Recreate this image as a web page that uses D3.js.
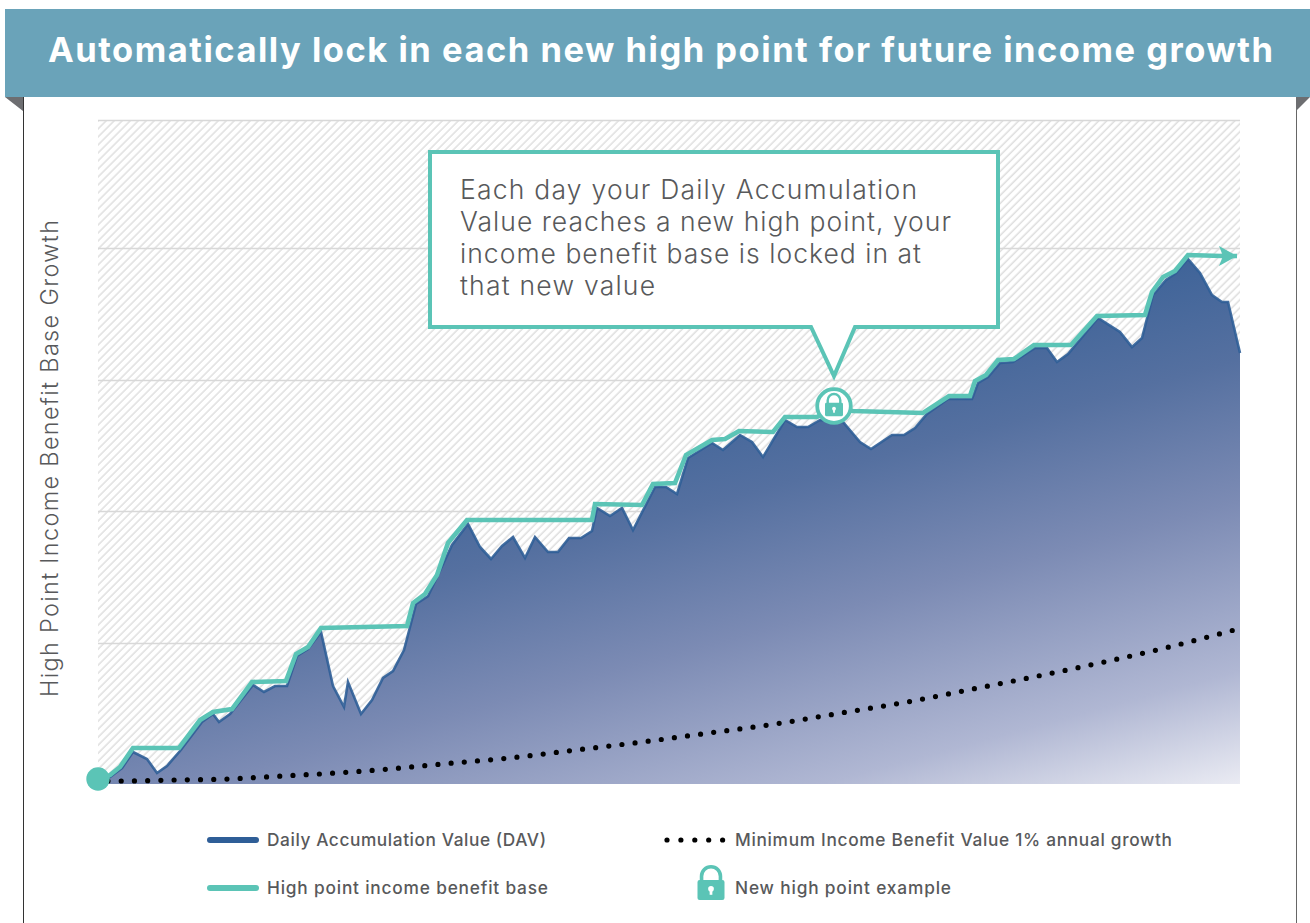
<!DOCTYPE html>
<html>
<head>
<meta charset="utf-8">
<script src="https://cdn.jsdelivr.net/npm/d3@7"></script>
<style>
  html, body { margin: 0; padding: 0; background: #fff; }
  svg { display: block; }
  text { font-family: Inter, "Open Sans", sans-serif; }
</style>
</head>
<body>
<div id="chart"></div>
<script>
// values, day = horizontal position, value = height above the baseline
const davDays = [0,12,24,35,49,59,69,82,104,115,121,132,155,166,177,189,199,210,223,235,246,250,263,274,285,295,306,318,330,340,354,370,382,393,404,415,427,437,450,460,471,483,494,499,512,524,535,557,568,579,590,614,625,642,654,665,687,699,710,722,745,762,773,794,806,817,829,850,874,880,890,902,915,937,949,959,970,1000,1022,1034,1044,1055,1068,1078,1090,1102,1114,1124,1130,1142];
const davValues = [4,7,16,32,25,11,18,33,62,70,62,70,99,92,98,98,128,135,152,98,77,102,70,84,106,113,134,180,188,209,239,260,237,225,238,247,226,247,232,232,246,246,253,276,268,276,254,297,297,290,326,341,334,349,342,327,364,357,357,364,362,342,335,349,349,356,370,385,385,401,407,421,422,436,436,422,430,466,452,437,446,489,504,511,525,511,489,482,482,431];

const highDays = [0,12,22,35,81,102,115,134,154,188,198,210,223,309,315,327,339,350,369,494,497,544,555,577,588,614,627,641,675,687,719,736,755,825,851,872,877,888,900,916,936,973,999,1047,1054,1065,1077,1090,1124,1139];
const highValues = [4,9,17,36,36,64,72,75,102,103,130,137,156,158,181,190,209,241,264,264,280,279,300,301,329,344,345,353,352,367,367,376,373,371,388,388,403,409,424,425,439,439,468,469,492,507,513,529,528,528];

const minDays = [10,24,77,130,184,238,291,344,411,478,544,611,677,743,809,875,940,1006,1071,1136];
const minValues = [3,3,4,5,8,11,15,20,26,34,42,51,60,71,82,95,108,122,137,154];

const gridValues = [141,273,404,536,664];
const lockDay = 736;
const lockValue = 378;

const titleText = "Automatically lock in each new high point for future income growth";
const yTitle = "High Point Income Benefit Base Growth";
const calloutLines = [
  ["Each day your Daily Accumulation", 457],
  ["Value reaches a new high point, your", 491],
  ["income benefit base is locked in at", 461],
  ["that new value", 195]
];

const width = 1310, height = 923;
const teal = "#5bc4b6", grey = "#58595b", blue = "#2f5e97";
const plotLeft = 98, plotRight = 1240, plotTop = 120, plotBottom = 784;

const svg = d3.select("#chart").append("svg").attr("width", width).attr("height", height);
const defs = svg.append("defs");

// hatch behind the chart
const hatch = defs.append("pattern")
  .attr("id", "hatch")
  .attr("patternUnits", "userSpaceOnUse")
  .attr("width", 5.66).attr("height", 5.66)
  .attr("patternTransform", "rotate(45)");
hatch.append("line")
  .attr("x1", 2).attr("x2", 2).attr("y1", 0).attr("y2", 5.66)
  .attr("stroke", "#d6d6d6").attr("stroke-width", 1.2);

const grad = defs.append("linearGradient")
  .attr("id", "areaFill")
  .attr("gradientUnits", "userSpaceOnUse")
  .attr("x1", 1097).attr("y1", 257).attr("x2", 1240).attr("y2", 784);
[[0, "#3a6197"], [0.25, "#5570a0"], [0.5, "#7c8bb4"], [0.8, "#b0b7d3"], [1, "#eaebf3"]]
  .forEach(s => grad.append("stop").attr("offset", s[0]).attr("stop-color", s[1]));

const x = d3.scaleLinear().domain([0, 1142]).range([plotLeft, plotRight]);
const y = d3.scaleLinear().domain([0, 664]).range([plotBottom, plotTop]);

// page frame and banner
svg.append("line").attr("x1", 23.5).attr("x2", 23.5).attr("y1", 97).attr("y2", height).attr("stroke", "#333").attr("stroke-width", 1);
svg.append("line").attr("x1", 1296.5).attr("x2", 1296.5).attr("y1", 97).attr("y2", height).attr("stroke", "#666").attr("stroke-width", 1);
svg.append("rect").attr("x", 5).attr("y", 9).attr("width", 1305).attr("height", 88).attr("fill", "#6aa3b9");
svg.append("path").attr("d", "M5,97L23,97L23,111Z").attr("fill", "#6d6e71");
svg.append("path").attr("d", "M1310,97L1296,97L1296,111Z").attr("fill", "#6d6e71");
svg.append("text")
  .attr("x", 48).attr("y", 62)
  .attr("textLength", 1225).attr("lengthAdjust", "spacing")
  .attr("font-size", 34.5).attr("font-weight", 700).attr("fill", "#fff")
  .text(titleText);

svg.append("rect")
  .attr("x", plotLeft).attr("y", plotTop).attr("width", plotRight - plotLeft).attr("height", plotBottom - plotTop)
  .attr("fill", "url(#hatch)");

// gridlines
const grid = svg.append("g")
  .attr("transform", "translate(" + plotLeft + ",0)")
  .call(d3.axisLeft(y).tickValues(gridValues).tickSize(-(plotRight - plotLeft)).tickFormat(""));
grid.select(".domain").remove();
grid.selectAll("line").attr("stroke", "#d8d8d8").attr("stroke-width", 1.3);

// y title
svg.append("text")
  .attr("transform", "translate(58,697) rotate(-90)")
  .attr("textLength", 477).attr("lengthAdjust", "spacing")
  .attr("font-size", 23.5).attr("font-weight", 300).attr("fill", grey)
  .text(yTitle);

// area and lines
const dav = d3.zip(davDays, davValues);
const high = d3.zip(highDays, highValues);
const min = d3.zip(minDays, minValues);

const area = d3.area().x(d => x(d[0])).y0(y(0)).y1(d => y(d[1]));
const line = d3.line().x(d => x(d[0])).y(d => y(d[1]));

svg.append("path").datum(dav).attr("d", area).attr("fill", "url(#areaFill)");
svg.append("path").datum(dav).attr("d", line)
  .attr("fill", "none").attr("stroke", blue).attr("stroke-width", 2.6).attr("stroke-opacity", 0.9);
svg.append("path").datum(high).attr("d", line)
  .attr("fill", "none").attr("stroke", teal).attr("stroke-width", 4.6);
svg.append("path").datum(min).attr("d", line.curve(d3.curveMonotoneX))
  .attr("fill", "none").attr("stroke", "#000").attr("stroke-width", 5.2)
  .attr("stroke-linecap", "round").attr("stroke-dasharray", "0 13.22");
line.curve(d3.curveLinear);

// arrow head at the end of the high point line
const tipX = x(highDays[highDays.length - 1]), tipY = y(highValues[highValues.length - 1]);
svg.append("path")
  .attr("d", `M${tipX},${tipY}L${tipX - 18},${tipY - 10}L${tipX - 14},${tipY}L${tipX - 18},${tipY + 10}Z`)
  .attr("fill", teal);

// start marker
svg.append("circle").attr("cx", x(0)).attr("cy", y(5)).attr("r", 11.7).attr("fill", teal);

function drawLock(g, cx, cy, k, fill, hole) {
  // cx, cy is the middle of the lock body, k scales a 18px wide lock
  const l = g.append("g").attr("transform", `translate(${cx},${cy}) scale(${k})`);
  l.append("path")
    .attr("d", "M-6.3,-5V-9.2A6.3,6.3 0 0 1 6.3,-9.2V-5")
    .attr("fill", "none").attr("stroke", fill).attr("stroke-width", 2.4);
  l.append("rect").attr("x", -9).attr("y", -6.7).attr("width", 18).attr("height", 13.4).attr("rx", 1.4).attr("fill", fill);
  l.append("circle").attr("cx", 0).attr("cy", -0.8).attr("r", 1.9).attr("fill", hole);
  l.append("rect").attr("x", -0.9).attr("y", -0.8).attr("width", 1.8).attr("height", 4).attr("fill", hole);
}

// callout box
const tail = { x: x(lockDay), y: 376 };
svg.append("path")
  .attr("d", `M430,152H998V327H855L${tail.x},${tail.y}L811,327H430Z`)
  .attr("fill", "#fff").attr("stroke", teal).attr("stroke-width", 4);
const calloutText = svg.append("g").attr("font-size", 26.5).attr("font-weight", 300).attr("fill", grey);
calloutLines.forEach((l, i) => {
  calloutText.append("text")
    .attr("x", 460).attr("y", 199 + i * 32)
    .attr("textLength", l[1]).attr("lengthAdjust", "spacing")
    .text(l[0]);
});

// lock on the high point line
svg.append("circle")
  .attr("cx", x(lockDay)).attr("cy", y(lockValue)).attr("r", 16.8)
  .attr("fill", "#fff").attr("stroke", teal).attr("stroke-width", 3.8);
drawLock(svg, x(lockDay), y(lockValue) + 3.5, 1, teal, "#fff");

// legend
const legend = svg.append("g");
function legendLabel(txt, lx, ly, len) {
  legend.append("text").attr("x", lx).attr("y", ly)
    .attr("textLength", len).attr("lengthAdjust", "spacing")
    .attr("font-size", 17.3).attr("font-weight", 500).attr("fill", grey)
    .text(txt);
}
function legendLine(ly, color) {
  legend.append("line").attr("x1", 210).attr("x2", 256).attr("y1", ly).attr("y2", ly)
    .attr("stroke", color).attr("stroke-width", 6).attr("stroke-linecap", "round");
}
legendLine(840, blue);
legendLine(888, teal);
legend.append("line").attr("x1", 667).attr("x2", 723).attr("y1", 840).attr("y2", 840)
  .attr("stroke", "#000").attr("stroke-width", 5.2)
  .attr("stroke-linecap", "round").attr("stroke-dasharray", "0 13.9");
drawLock(legend, 711, 890, 1.5, teal, "#fff");
legendLabel("Daily Accumulation Value (DAV)", 267, 846, 279);
legendLabel("High point income benefit base", 267, 894, 281);
legendLabel("Minimum Income Benefit Value 1% annual growth", 735, 846, 437);
legendLabel("New high point example", 735, 894, 216);
</script>
</body>
</html>
